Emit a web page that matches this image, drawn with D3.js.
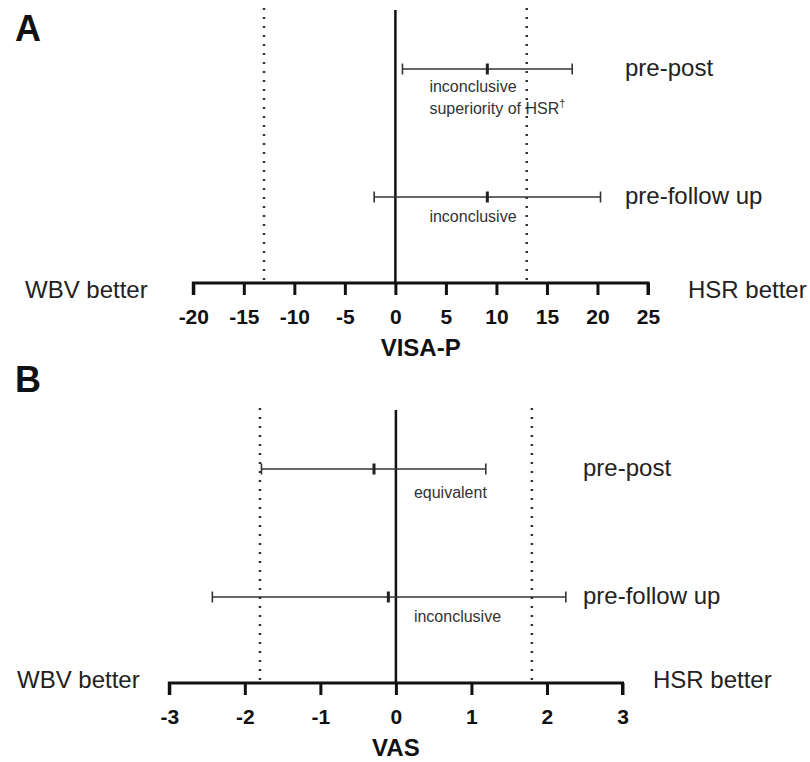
<!DOCTYPE html>
<html>
<head>
<meta charset="utf-8">
<script src="https://cdn.jsdelivr.net/npm/d3@7"></script>
<style>
  body { margin: 0; background: #fff; }
  text { font-family: "Liberation Sans", Arial, sans-serif; }
</style>
</head>
<body>
<div id="chart"></div>
<script>
// rows shared by both panels
var rows = ["pre-post", "pre-follow up"];

// A: VISA-P mean difference with CI
var visaMean = [9.1, 9.1];
var visaLow = [0.7, -2.1];
var visaHigh = [17.5, 20.3];
var visaMargin = 13;
var visaTicks = [-20, -15, -10, -5, 0, 5, 10, 15, 20, 25];
var visaNotes = [["inconclusive", "superiority of HSR"], ["inconclusive"]];

// B: VAS mean difference with CI
var vasMean = [-0.29, -0.10];
var vasLow = [-1.78, -2.43];
var vasHigh = [1.19, 2.25];
var vasMargin = 1.8;
var vasTicks = [-3, -2, -1, 0, 1, 2, 3];
var vasNotes = [["equivalent"], ["inconclusive"]];

var W = 810, H = 762;

var svg = d3.select("#chart").append("svg")
  .attr("width", W)
  .attr("height", H);

var panels = [
  {
    letter: "A", top: 10, title: "VISA-P",
    domain: [-20, 25], range: [193.3, 648],
    mean: visaMean, low: visaLow, high: visaHigh, margin: visaMargin,
    ticks: visaTicks, notes: visaNotes,
    noteDx: 34, noteDy: [23, 25], leftLab: 25, rightLab: 688, labDy: 15, letterY: 41,
    rowLab: 625
  },
  {
    letter: "B", top: 410, title: "VAS",
    domain: [-3, 3], range: [169.3, 622.5],
    mean: vasMean, low: vasLow, high: vasHigh, margin: vasMargin,
    ticks: vasTicks, notes: vasNotes,
    noteDx: 18, noteDy: [29, 25], leftLab: 17, rightLab: 653, labDy: 5, letterY: 392,
    rowLab: 583
  }
];

panels.forEach(drawPanel);

function drawPanel(p) {
  var axisY = p.top + 273;

  var x = d3.scaleLinear().domain(p.domain).range(p.range);
  var y = d3.scalePoint().domain(rows).range([p.top + 59, p.top + 187]);

  var g = svg.append("g").attr("class", "panel" + p.letter);

  // panel letter
  svg.append("text")
    .attr("x", 15)
    .attr("y", p.letterY)
    .style("font-size", "36px")
    .style("font-weight", "bold")
    .attr("fill", "#111")
    .text(p.letter);

  // equivalence margins (dotted)
  g.selectAll(".margin")
    .data([-p.margin, p.margin])
    .enter()
    .append("line")
    .attr("x1", function(d) { return x(d); })
    .attr("x2", function(d) { return x(d); })
    .attr("y1", p.top - 2)
    .attr("y2", axisY)
    .attr("stroke", "#333")
    .attr("stroke-width", 2.5)
    .attr("stroke-dasharray", "2,7");

  // zero line
  g.append("line")
    .attr("x1", x(0)).attr("x2", x(0))
    .attr("y1", p.top).attr("y2", axisY)
    .attr("stroke", "#111")
    .attr("stroke-width", 2.5);

  // x axis, plain hyphen for negatives like the original
  var axis = d3.axisBottom(x)
    .tickValues(p.ticks)
    .tickSize(12)
    .tickSizeOuter(12)
    .tickFormat(function(d) { return String(d); });

  var ax = g.append("g")
    .attr("transform", "translate(0," + axisY + ")")
    .call(axis);
  ax.select(".domain")
    .attr("stroke", "#111")
    .attr("stroke-width", 3)
    .attr("d", "M" + p.range[0] + ",12V0H" + p.range[1] + "V12");
  ax.selectAll(".tick line")
    .attr("stroke", "#111")
    .attr("stroke-width", 3);
  ax.selectAll(".tick text")
    .attr("y", 26)
    .attr("fill", "#111")
    .style("font-size", "21px")
    .style("font-weight", "bold")
    .style("font-family", "'Liberation Sans', Arial, sans-serif");

  // axis title
  g.append("text")
    .attr("x", (p.range[0] + p.range[1]) / 2)
    .attr("y", axisY + 73)
    .attr("text-anchor", "middle")
    .attr("fill", "#111")
    .style("font-size", "24px")
    .style("font-weight", "bold")
    .text(p.title);

  // side labels
  g.append("text")
    .attr("x", p.leftLab)
    .attr("y", axisY + p.labDy)
    .attr("fill", "#222")
    .style("font-size", "24px")
    .text("WBV better");
  g.append("text")
    .attr("x", p.rightLab)
    .attr("y", axisY + p.labDy)
    .attr("fill", "#222")
    .style("font-size", "24px")
    .text("HSR better");

  // error bars
  var bars = g.selectAll(".ci")
    .data(rows)
    .enter()
    .append("g")
    .attr("class", "ci");

  bars.append("line")
    .attr("x1", function(d, i) { return x(p.low[i]); })
    .attr("x2", function(d, i) { return x(p.high[i]); })
    .attr("y1", function(d) { return y(d); })
    .attr("y2", function(d) { return y(d); })
    .attr("stroke", "#333")
    .attr("stroke-width", 1.6);

  // caps
  [p.low, p.high].forEach(function(arr) {
    bars.append("line")
      .attr("x1", function(d, i) { return x(arr[i]); })
      .attr("x2", function(d, i) { return x(arr[i]); })
      .attr("y1", function(d) { return y(d) - 5.5; })
      .attr("y2", function(d) { return y(d) + 5.5; })
      .attr("stroke", "#333")
      .attr("stroke-width", 1.6);
  });

  // point estimate
  bars.append("line")
    .attr("x1", function(d, i) { return x(p.mean[i]); })
    .attr("x2", function(d, i) { return x(p.mean[i]); })
    .attr("y1", function(d) { return y(d) - 5.5; })
    .attr("y2", function(d) { return y(d) + 5.5; })
    .attr("stroke", "#222")
    .attr("stroke-width", 3);

  // row labels
  bars.append("text")
    .attr("x", p.rowLab)
    .attr("y", function(d) { return y(d) + 7; })
    .attr("fill", "#222")
    .style("font-size", "24px")
    .text(function(d) { return d; });

  // conclusion notes
  bars.each(function(d, i) {
    var sel = d3.select(this);
    p.notes[i].forEach(function(t, j) {
      var txt = sel.append("text")
        .attr("x", x(0) + p.noteDx)
        .attr("y", y(d) + p.noteDy[i] + j * 22)
        .attr("fill", "#333")
        .style("font-size", "16px")
        .text(t);
      // dagger on the superiority note
      if (t.indexOf("superiority") == 0) {
        txt.append("tspan")
          .attr("dy", -7)
          .style("font-size", "11px")
          .text("\u2020");
      }
    });
  });
}
</script>
</body>
</html>
